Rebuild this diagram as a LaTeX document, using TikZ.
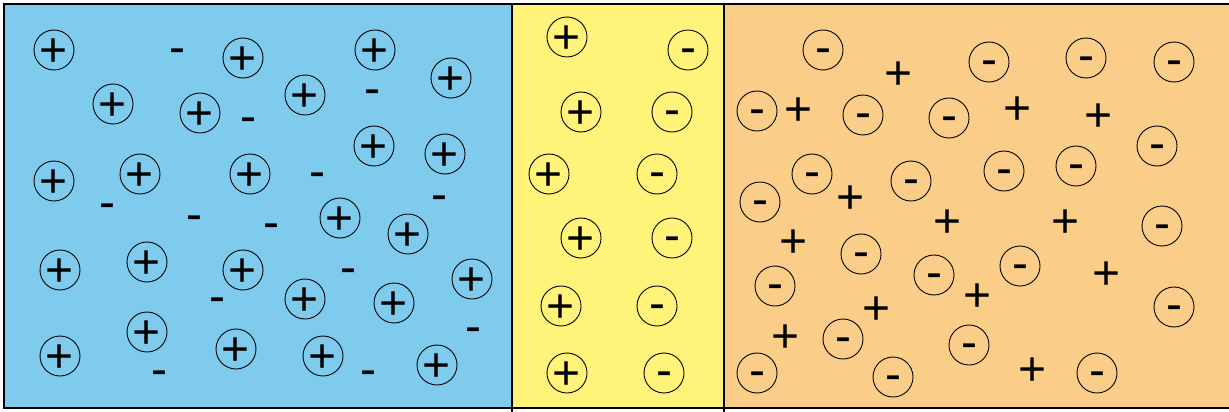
\documentclass[tikz,border=0pt]{standalone}
\usepackage{fontspec}
\setmainfont{Liberation Sans}
\definecolor{nside}{RGB}{126,203,237}
\definecolor{depletion}{RGB}{255,243,122}
\definecolor{pside}{RGB}{250,206,136}
% glyphs centred on the node point
\newcommand{\ionplus}{\raisebox{-0.353em}[0pt][0pt]{\makebox[0pt]{+}}}
\newcommand{\ionminus}{\raisebox{-0.281em}[0pt][0pt]{\makebox[0pt]{-}}}

\begin{document}
\begin{tikzpicture}[x=1pt, y=-1pt,
  sign/.style={font=\fontsize{48}{48}\selectfont, inner sep=0pt},
  ion/.style={sign, circle, draw, line width=0.9pt, minimum size=40pt}]
  \useasboundingbox (0,0) rectangle (1229,412);
  \clip (0,0) rectangle (1229,412);
  % regions
  \fill[nside] (4,4) rectangle (512,408);
  \fill[depletion] (512,4) rectangle (724,408);
  \fill[pside] (724,4) rectangle (1240,408);
  \draw[line width=2.5pt] (4,4) rectangle (1240,408);
  \draw[line width=2.5pt] (512,4) -- (512,416) (724,4) -- (724,416);
  % n side
  \foreach \x/\y [count=\i] in {54/50, 243/58, 375/50, 451/78, 113/104, 200/113, 305/95, 374/146, 445/154, 54/181, 140/174, 250/174, 340/218, 408/234, 60/270, 147/262, 243/270, 305/299, 394/303, 472/279, 147/332, 60/356, 236/349, 323/356, 437/365}
    \node[ion] (donor\i) at (\x,\y) {\ionplus};
  \foreach \x/\y [count=\i] in {177/50, 372/91, 248/119, 317/174, 107/205, 439/197, 194/217, 271/225, 348/270, 217/299, 473/329, 159/372, 368/372}
    \node[sign] (electron\i) at (\x,\y) {\ionminus};
  % depletion region
  \foreach \x/\y [count=\i] in {567/37, 581/112, 549/174, 581/238, 561/306, 567/373}
    \node[ion] (dplus\i) at (\x,\y) {\ionplus};
  \foreach \x/\y [count=\i] in {688/50, 672/112, 657/174, 672/238, 657/306, 664/373}
    \node[ion] (dminus\i) at (\x,\y) {\ionminus};
  % p side
  \foreach \x/\y [count=\i] in {823/50, 989/62, 1086/58, 1174/62, 757/111, 863/115, 949/118, 1157/146, 812/174, 911/181, 1004/171, 1076/166, 760/202, 1162/226, 861/254, 775/286, 934/275, 1020/266, 1174/307, 843/339, 969/345, 757/373, 893/377, 1097/373}
    \node[ion] (acceptor\i) at (\x,\y) {\ionminus};
  \foreach \x/\y [count=\i] in {899/73, 799/109, 1018/108, 1099/115, 851/197, 948/221, 1066/221, 794/241, 1107/273, 978/295, 877/308, 786/336, 1033/369}
    \node[sign] (hole\i) at (\x,\y) {\ionplus};
\end{tikzpicture}
\end{document}
